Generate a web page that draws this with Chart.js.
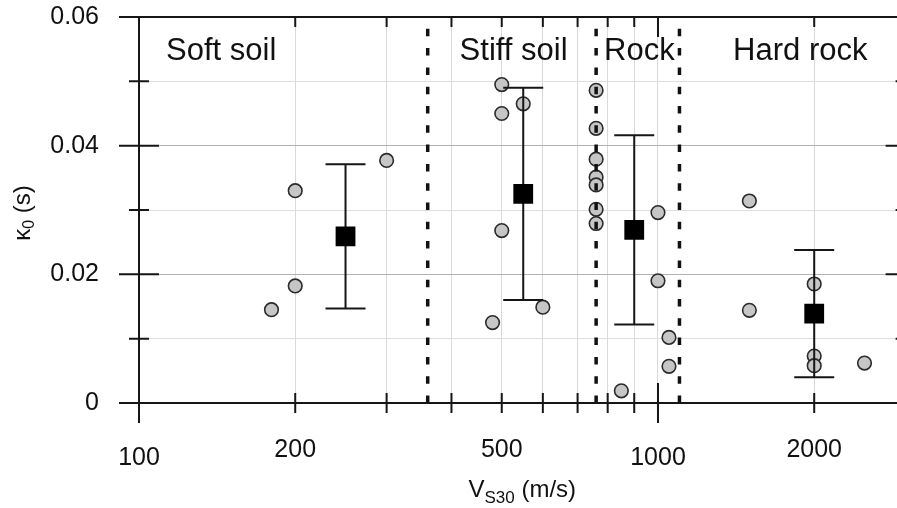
<!DOCTYPE html>
<html>
<head>
<meta charset="utf-8">
<script src="https://cdn.jsdelivr.net/npm/chart.js@4.4.0/dist/chart.umd.min.js"></script>
<style>
  html, body { margin: 0; padding: 0; background: #fff; overflow: hidden; }
  #wrap { width: 897px; height: 508px; overflow: hidden; position: relative; }
  canvas { display: block; }
</style>
</head>
<body>
<div id="wrap"><canvas id="c" width="920" height="508"></canvas></div>
<script>
// Station measurements per site class: VS30 (m/s) and kappa0 (s)
const softV  = [180, 200, 200, 300];
const softK  = [0.0145, 0.0182, 0.0330, 0.0377];
const stiffV = [480, 500, 500, 500, 550, 600];
const stiffK = [0.0125, 0.0268, 0.0450, 0.0495, 0.0465, 0.0149];
const rockV  = [760, 760, 760, 760, 760, 760, 760, 850, 1000, 1000, 1050, 1050];
const rockK  = [0.0486, 0.0427, 0.0379, 0.0351, 0.0339, 0.0301, 0.0279, 0.0019, 0.0296, 0.0190, 0.0102, 0.0057];
const hardV  = [1500, 1500, 2000, 2000, 2000, 2500];
const hardK  = [0.0314, 0.0144, 0.0185, 0.0073, 0.0058, 0.0062];

// Class averages with one standard deviation
const classNames = ['Soft soil', 'Stiff soil', 'Rock', 'Hard rock'];
const classV     = [250, 550, 900, 2000];
const classMean  = [0.0259, 0.0325, 0.0269, 0.0139];
const classSd    = [0.0112, 0.0165, 0.0147, 0.0099];

// VS30 limits between the classes
const boundaries = [360, 760, 1100];

// Axis ticks
const xTickLabels = [100, 200, 500, 1000, 2000];
const xMajorTicks = [100, 1000];
const xMinorTicks = [200, 300, 400, 500, 600, 700, 800, 900, 2000];
const yTickLabels = [0, 0.02, 0.04, 0.06];

// Where each class name is centred along VS30
const classLabelAt = [144, 527, 921, 1880];

const FONT = '"Liberation Sans", Arial, Helvetica, sans-serif';
const INK = '#161616';

const zip = (xs, ys) => xs.map((x, i) => ({ x, y: ys[i] }));
const isLabelled = v => yTickLabels.some(l => Math.abs(l - v) < 1e-9);

const circleStyle = {
  pointRadius: 6.8,
  pointHoverRadius: 6.8,
  pointBackgroundColor: '#c6c6c6',
  pointBorderColor: '#2b2b2b',
  pointBorderWidth: 1.6,
  showLine: false,
  order: 2
};

const datasets = [
  {
    label: 'mean',
    data: zip(classV, classMean),
    pointStyle: 'rect',
    pointRadius: 14,
    pointHoverRadius: 14,
    pointBackgroundColor: '#000',
    pointBorderColor: '#000',
    pointBorderWidth: 0,
    showLine: false,
    order: 0
  },
  ...boundaries.map(b => ({
    label: 'limit ' + b,
    data: [{ x: b, y: 0 }, { x: b, y: 0.0582 }],
    showLine: true,
    borderColor: '#111',
    borderWidth: 3.5,
    borderDash: [7.5, 11.8],
    borderCapStyle: 'butt',
    pointRadius: 0,
    order: 1
  })),
  { label: classNames[0], data: zip(softV, softK), ...circleStyle },
  { label: classNames[1], data: zip(stiffV, stiffK), ...circleStyle },
  { label: classNames[2], data: zip(rockV, rockK), ...circleStyle },
  { label: classNames[3], data: zip(hardV, hardK), ...circleStyle }
];

// Error bars, frame, ticks, tick labels, class names and axis titles
const decorations = {
  id: 'decorations',
  beforeDatasetDraw(chart, args) {
    if (args.index !== 0) return;
    const ctx = chart.ctx, xs = chart.scales.x, ys = chart.scales.y;
    ctx.save();
    ctx.strokeStyle = INK;
    ctx.lineWidth = 2;
    ctx.lineCap = 'butt';
    classV.forEach((v, i) => {
      const px = xs.getPixelForValue(v);
      const hi = ys.getPixelForValue(classMean[i] + classSd[i]);
      const lo = ys.getPixelForValue(classMean[i] - classSd[i]);
      ctx.beginPath();
      ctx.moveTo(px, hi); ctx.lineTo(px, lo);
      ctx.moveTo(px - 20, hi); ctx.lineTo(px + 20, hi);
      ctx.moveTo(px - 20, lo); ctx.lineTo(px + 20, lo);
      ctx.stroke();
    });
    ctx.restore();
  },
  afterDraw(chart) {
    const ctx = chart.ctx, xs = chart.scales.x, ys = chart.scales.y;
    const { left, right, top, bottom } = chart.chartArea;
    ctx.save();
    ctx.strokeStyle = INK;
    ctx.lineWidth = 2;
    ctx.lineCap = 'butt';
    ctx.beginPath();
    // frame
    ctx.moveTo(left, top); ctx.lineTo(left, bottom + 20);
    ctx.moveTo(left - 20, top); ctx.lineTo(right, top);
    ctx.moveTo(left - 20, bottom); ctx.lineTo(right, bottom);
    ctx.moveTo(right, top); ctx.lineTo(right, bottom);
    // y ticks: crossing on the left, inward on the right
    ys.ticks.forEach(t => {
      const py = ys.getPixelForValue(t.value);
      const len = isLabelled(t.value) ? 20 : 10;
      ctx.moveTo(left - len, py); ctx.lineTo(left + len, py);
      ctx.moveTo(right - len, py); ctx.lineTo(right, py);
    });
    // x ticks: crossing at the bottom, inward at the top
    const xt = [...xMajorTicks.map(v => [v, 20]), ...xMinorTicks.map(v => [v, 10])];
    xt.forEach(([v, len]) => {
      const px = xs.getPixelForValue(v);
      ctx.moveTo(px, bottom - len); ctx.lineTo(px, bottom + len);
      ctx.moveTo(px, top); ctx.lineTo(px, top + len);
    });
    ctx.stroke();

    ctx.fillStyle = '#111';
    // x tick labels
    ctx.font = '25px ' + FONT;
    ctx.textAlign = 'center';
    ctx.textBaseline = 'alphabetic';
    xTickLabels.forEach(v => {
      const px = xs.getPixelForValue(v);
      const py = bottom + (xMajorTicks.includes(v) ? 62 : 54);
      ctx.fillText(String(v), px, py);
    });

    // class names
    ctx.font = '31px ' + FONT;
    classNames.forEach((name, i) => {
      ctx.fillText(name, xs.getPixelForValue(classLabelAt[i]), top + 43);
    });

    // text made of runs: [text, size, baseline shift]
    const drawRuns = (runs, cx, cy) => {
      let w = 0;
      runs.forEach(r => { ctx.font = r[1] + 'px ' + FONT; w += ctx.measureText(r[0]).width; });
      let x = cx - w / 2;
      ctx.textAlign = 'left';
      runs.forEach(r => {
        ctx.font = r[1] + 'px ' + FONT;
        ctx.fillText(r[0], x, cy + r[2]);
        x += ctx.measureText(r[0]).width;
      });
    };

    // x axis title
    drawRuns([['V', 24, 0], ['S30', 17, 6], [' (m/s)', 24, 0]], (left + right) / 2, 497);

    // y axis title
    ctx.save();
    ctx.translate(30, (top + bottom) / 2 + 3);
    ctx.rotate(-Math.PI / 2);
    drawRuns([['\u03ba', 24, 0], ['0', 16, 4], [' (s)', 24, 0]], 0, 0);
    ctx.restore();

    ctx.restore();
  }
};

new Chart(document.getElementById('c'), {
  type: 'scatter',
  data: { datasets },
  options: {
    responsive: false,
    animation: false,
    events: [],
    layout: { padding: { left: 0, top: 17, right: 14.4, bottom: 0 } },
    plugins: { legend: { display: false }, tooltip: { enabled: false } },
    scales: {
      x: {
        type: 'logarithmic',
        min: 100,
        max: 3000,
        afterBuildTicks: s => { s.ticks = [...xMajorTicks, ...xMinorTicks].sort((a, b) => a - b).map(v => ({ value: v })); },
        afterFit: s => { s.height = 105; },
        border: { display: false },
        grid: {
          drawTicks: false,
          lineWidth: 1,
          color: c => (c.tick && c.tick.value > 100 && c.tick.value < 3000) ? '#d9d9d9' : 'rgba(0,0,0,0)'
        },
        ticks: { display: false }
      },
      y: {
        type: 'linear',
        min: 0,
        max: 0.06,
        afterFit: s => { s.width = 139; },
        border: { display: false },
        grid: {
          drawTicks: true,
          tickLength: 40,
          tickColor: 'rgba(0,0,0,0)',
          lineWidth: 1,
          color: c => {
            const v = c.tick ? c.tick.value : 0;
            if (v < 1e-9 || v > 0.06 - 1e-9) return 'rgba(0,0,0,0)';
            return isLabelled(v) ? '#b2b2b2' : '#dedede';
          }
        },
        ticks: {
          stepSize: 0.01,
          padding: 0,
          color: '#111',
          font: { size: 25, family: FONT },
          callback: v => {
            const l = yTickLabels.find(t => Math.abs(t - v) < 1e-9);
            return l === undefined ? '' : (l === 0 ? '0' : l.toFixed(2));
          }
        }
      }
    }
  },
  plugins: [decorations]
});
</script>
</body>
</html>
